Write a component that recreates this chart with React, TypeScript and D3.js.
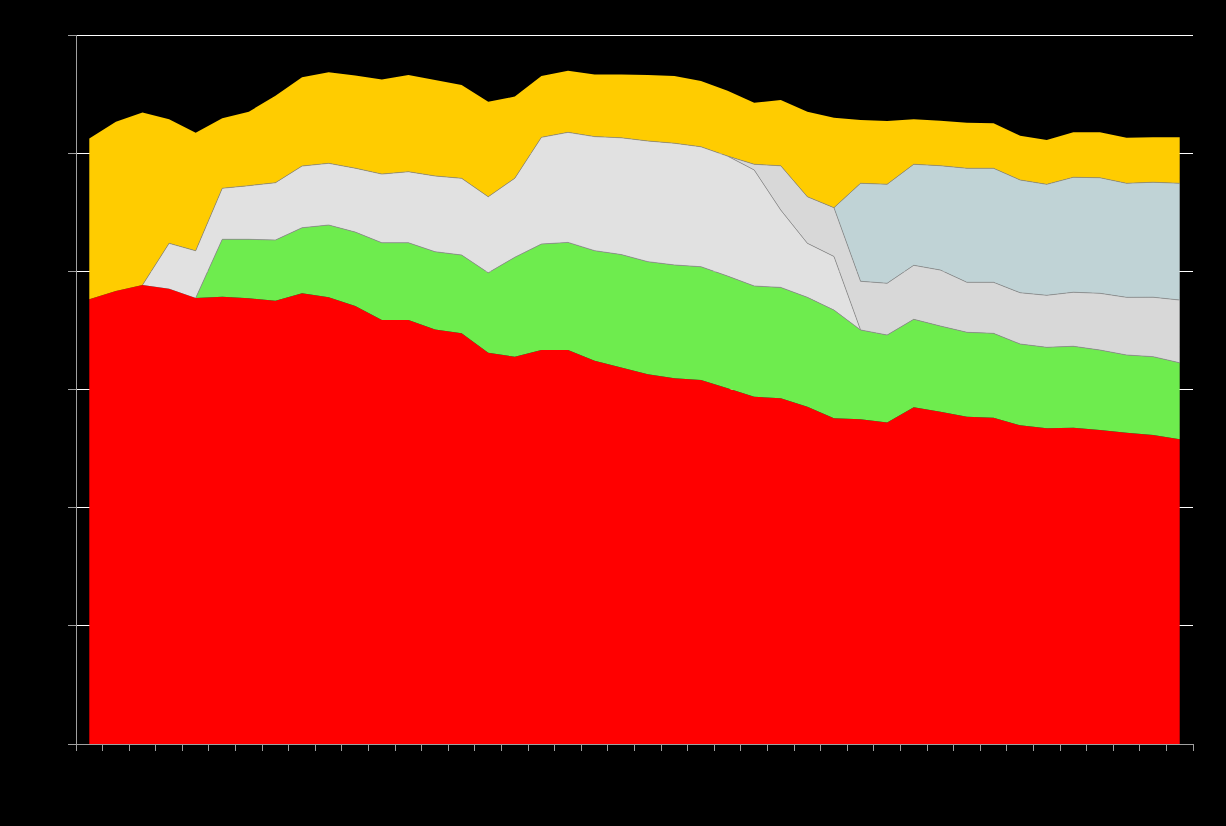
import React from "react";
import * as d3 from "d3";

const categories = [
  "1", "2", "3", "4", "5", "6", "7", "8", "9", "10", "11", "12", "13", "14",
  "15", "16", "17", "18", "19", "20", "21", "22", "23", "24", "25", "26", "27", "28",
  "29", "30", "31", "32", "33", "34", "35", "36", "37", "38", "39", "40", "41", "42",
];

const redSeries = [
  37.63, 38.33, 38.84, 38.53, 37.74, 37.85, 37.72, 37.51, 38.14, 37.8, 37.07, 35.88, 35.88, 35.08,
  34.75, 33.11, 32.78, 33.34, 33.34, 32.44, 31.86, 31.29, 30.95, 30.8, 30.1, 29.39, 29.25, 28.54,
  27.56, 27.48, 27.21, 28.49, 28.12, 27.7, 27.61, 26.97, 26.72, 26.77, 26.57, 26.34, 26.15, 25.78,
];
const greenSeries = [
  0, 0, 0, 0, 0, 4.86, 4.99, 5.14, 5.55, 6.12, 6.25, 6.54, 6.54, 6.58,
  6.63, 6.77, 8.41, 8.97, 9.11, 9.31, 9.56, 9.53, 9.59, 9.59, 9.5, 9.37, 9.39, 9.26,
  9.16, 7.56, 7.4, 7.45, 7.25, 7.14, 7.14, 6.88, 6.85, 6.89, 6.77, 6.58, 6.63, 6.48,
];
const lightGraySeries = [
  0, 0, 0, 3.84, 4.0, 4.32, 4.54, 4.85, 5.22, 5.22, 5.41, 5.81, 6.01, 6.41,
  6.49, 6.43, 6.69, 9.03, 9.31, 9.65, 9.88, 10.21, 10.3, 10.15, 10.15, 9.82, 6.54, 4.57,
  4.54, 0, 0, 0, 0, 0, 0, 0, 0, 0, 0, 0, 0, 0,
];
const graySeries = [
  0, 0, 0, 0, 0, 0, 0, 0, 0, 0, 0, 0, 0, 0,
  0, 0, 0, 0, 0, 0, 0, 0, 0, 0, 0, 0.48, 3.75, 3.94,
  4.13, 4.12, 4.38, 4.57, 4.74, 4.23, 4.32, 4.34, 4.4, 4.57, 4.8, 4.88, 5.03, 5.31,
];
const blueGraySeries = [
  0, 0, 0, 0, 0, 0, 0, 0, 0, 0, 0, 0, 0, 0,
  0, 0, 0, 0, 0, 0, 0, 0, 0, 0, 0, 0, 0, 0,
  0, 8.29, 8.38, 8.55, 8.83, 9.65, 9.65, 9.54, 9.39, 9.73, 9.78, 9.65, 9.73, 9.88,
];
const yellowSeries = [
  13.62, 14.33, 14.61, 10.49, 9.99, 5.92, 6.26, 7.36, 7.51, 7.7, 7.84, 8.01, 8.18, 8.12,
  7.9, 8.04, 6.91, 5.19, 5.21, 5.25, 5.36, 5.59, 5.7, 5.56, 5.53, 5.21, 5.56, 7.19,
  7.6, 5.36, 5.36, 3.81, 3.81, 3.86, 3.81, 3.75, 3.75, 3.81, 3.84, 3.86, 3.81, 3.89,
];
const yTicks = [0, 10, 20, 30, 40, 50, 60];

const seriesKeys = ["red", "green", "lightGray", "gray", "blueGray", "yellow"];
const seriesColors: Record<string, string> = {
  red: "#ff0000",
  green: "#6eec4e",
  lightGray: "#e1e1e1",
  gray: "#d8d8d8",
  blueGray: "#c0d3d6",
  yellow: "#ffcc00",
};
const outlined = new Set(["green", "lightGray", "gray", "blueGray"]);

export default function App() {
  const W = 1226;
  const H = 826;
  const left = 76;
  const right = 1193;
  const top = 35;
  const bottom = 744;

  const rows = categories.map((c, i) => ({
    cat: c,
    red: redSeries[i],
    green: greenSeries[i],
    lightGray: lightGraySeries[i],
    gray: graySeries[i],
    blueGray: blueGraySeries[i],
    yellow: yellowSeries[i],
  }));

  const x = d3.scaleBand<string>().domain(categories).range([left, right]).padding(0);
  const cx = (c: string) => (x(c) as number) + x.bandwidth() / 2;
  const y = d3.scaleLinear().domain([0, 60]).range([bottom, top]);

  const stacked = d3.stack<any>().keys(seriesKeys)(rows);

  const area = d3
    .area<any>()
    .x((d) => cx(d.data.cat))
    .y0((d) => y(d[0]))
    .y1((d) => y(d[1]));

  const lines: JSX.Element[] = [];
  stacked.forEach((layer) => {
    if (!outlined.has(layer.key)) return;
    const vals = layer.map((d) => d[1] - d[0]);
    const def = (_d: any, i: number) =>
      vals[i] > 0 || (i > 0 && vals[i - 1] > 0) || (i < vals.length - 1 && vals[i + 1] > 0);
    const topLine = d3.line<any>().defined(def).x((d) => cx(d.data.cat)).y((d) => y(d[1]));
    lines.push(
      <path key={layer.key + "t"} d={topLine(layer) || ""} fill="none" stroke="#8c8c8c" strokeWidth={0.7} />
    );
  });

  const xTickPositions = [...categories.map((c) => x(c) as number), right];

  return (
    <svg
      width={W}
      height={H}
      style={{ position: "absolute", left: 0, top: 0, display: "block" }}
      fontFamily="Liberation Sans, Arial, sans-serif"
    >
      <rect x={0} y={0} width={W} height={H} fill="#000000" />
      <g shapeRendering="crispEdges">
        {yTicks.map((t) => (
          <g key={"g" + t}>
            {t > 0 && <line x1={left} x2={right} y1={y(t)} y2={y(t)} stroke="#ffffff" strokeWidth={1} />}
            <line x1={left - 8} x2={left} y1={y(t)} y2={y(t)} stroke="#a0a0a0" strokeWidth={1} />
          </g>
        ))}
      </g>
      {stacked.map((layer) => (
        <path key={layer.key} d={area(layer) || ""} fill={seriesColors[layer.key]} stroke="none" />
      ))}
      {lines}
      <g shapeRendering="crispEdges">
        <line x1={left} x2={left} y1={top} y2={bottom} stroke="#a0a0a0" strokeWidth={1} />
        <line x1={left} x2={right} y1={bottom} y2={bottom} stroke="#a0a0a0" strokeWidth={1} />
        {xTickPositions.map((p, i) => (
          <line key={"xt" + i} x1={p} x2={p} y1={bottom} y2={bottom + 7} stroke="#a0a0a0" strokeWidth={1} />
        ))}
      </g>
    </svg>
  );
}
